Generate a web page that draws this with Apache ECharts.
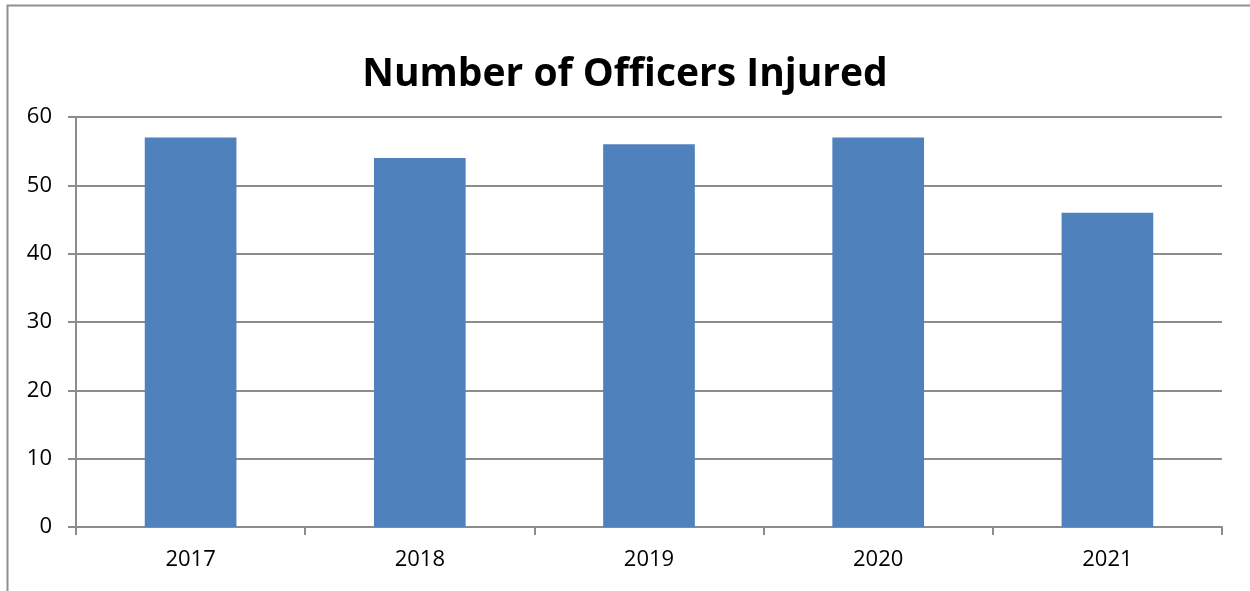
<!DOCTYPE html>
<html>
<head>
<meta charset="utf-8">
<script src="https://cdn.jsdelivr.net/npm/echarts@6/dist/echarts.min.js"></script>
<style>
  html, body { margin: 0; padding: 0; background: #fff; }
  #chart { width: 1250px; height: 591px; }
</style>
</head>
<body>
<div id="chart"></div>
<script>
// Yearly counts of injured officers
const years = ['2017', '2018', '2019', '2020', '2021'];
const injured = [57, 54, 56, 57, 46];
const yTicks = [0, 10, 20, 30, 40, 50, 60];

const chart = echarts.init(document.getElementById('chart'));
const gridColor = '#8c8c8c';
const font = '"Open Sans", "Liberation Sans", sans-serif';

chart.setOption({
  animation: false,
  backgroundColor: '#fff',
  graphic: [{
    type: 'rect',
    shape: { x: 7.5, y: 5.5, width: 1300, height: 700 },
    style: { fill: 'none', stroke: '#8f8f8f', lineWidth: 2 },
    silent: true
  }],
  title: {
    text: 'Number of Officers Injured',
    left: 'center',
    top: 50,
    textStyle: { fontFamily: font, fontWeight: 'bold', fontSize: 39, color: '#000' }
  },
  grid: { left: 76, right: 28, top: 117, bottom: 64 },
  xAxis: {
    type: 'category',
    data: years,
    axisLine: { lineStyle: { color: gridColor, width: 2 } },
    axisTick: { show: true, length: 8, lineStyle: { color: gridColor, width: 2 } },
    axisLabel: { fontFamily: font, fontSize: 22, color: '#000', margin: 22 }
  },
  yAxis: {
    type: 'value',
    min: yTicks[0],
    max: yTicks[yTicks.length - 1],
    interval: 10,
    axisLine: { show: true, lineStyle: { color: gridColor, width: 2 } },
    axisTick: { show: true, length: 8, lineStyle: { color: gridColor, width: 2 } },
    splitLine: { lineStyle: { color: gridColor, width: 2 } },
    axisLabel: { fontFamily: font, fontSize: 22, color: '#000', margin: 24 }
  },
  series: [{
    type: 'bar',
    data: injured,
    barWidth: '40%',
    itemStyle: { color: '#4f81bd' }
  }]
});
</script>
</body>
</html>
